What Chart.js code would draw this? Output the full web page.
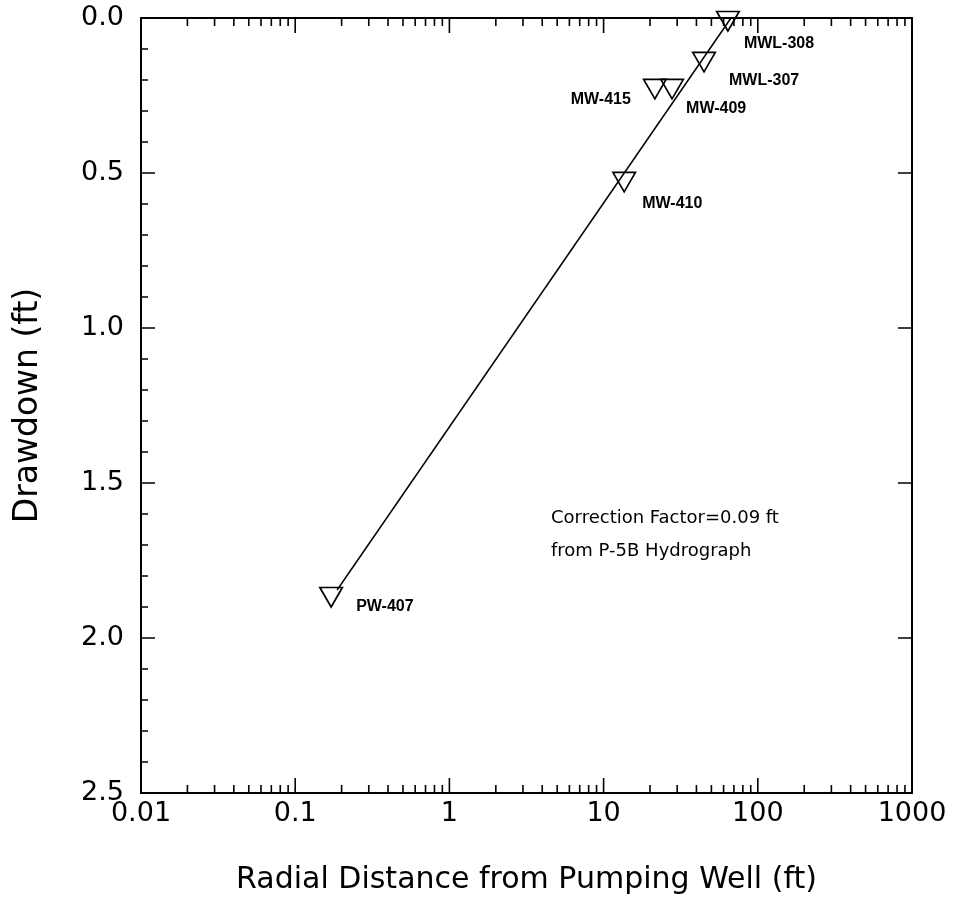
<!DOCTYPE html>
<html><head><meta charset="utf-8">
<script src="https://cdn.jsdelivr.net/npm/chart.js@4.4.0/dist/chart.umd.min.js"></script>
<style>html,body{margin:0;padding:0;background:#fff}#wrap{width:956px;height:908px}</style>
</head><body><div id="wrap"><canvas id="c" width="956" height="908"></canvas></div>
<script>
// ---- data ----
const wellNames = ['MWL-308', 'MWL-307', 'MW-415', 'MW-409', 'MW-410', 'PW-407'];
const wellDistance = [64, 44.8, 21.5, 27.8, 13.6, 0.171];
const wellDrawdown = [0.0, 0.132, 0.219, 0.219, 0.519, 1.858];
const fitDistance = [0.187, 67];
const fitDrawdown = [1.845, 0.0];
const xTickValues = [0.01, 0.1, 1, 10, 100, 1000];
const xTickLabels = ['0.01', '0.1', '1', '10', '100', '1000'];
const yTickValues = [0, 0.5, 1.0, 1.5, 2.0, 2.5];
const yTickLabels = ['0.0', '0.5', '1.0', '1.5', '2.0', '2.5'];
const noteLines = ['Correction Factor=0.09 ft', 'from P-5B Hydrograph'];
const noteDistance = 4.56;
const noteDrawdown = [1.615, 1.722];

// ---- label placement (pixel offsets from each point) ----
const labelOffsets = {
  'MWL-308': [16, 26, 'left'],
  'MWL-307': [25, 22, 'left'],
  'MW-415': [-24, 14, 'right'],
  'MW-409': [14, 23, 'left'],
  'MW-410': [18, 25, 'left'],
  'PW-407': [25, 13, 'left']
};

const TICK_FONT = {family: 'DejaVu Sans', size: 27, weight: 'normal'};
const XTITLE_FONT = {family: 'DejaVu Sans', size: 30, weight: 'normal'};
const YTITLE_FONT = {family: 'DejaVu Sans', size: 33, weight: 'normal'};
const LABEL_FONT = 'bold 16px "Liberation Sans"';
const NOTE_FONT = '18px "DejaVu Sans"';

const decorPlugin = {
  id: 'decor',
  afterDatasetsDraw(chart) {
    const {ctx, chartArea: a, scales: {x, y}} = chart;
    ctx.save();
    ctx.strokeStyle = '#000';
    ctx.lineWidth = 2;
    ctx.strokeRect(a.left, a.top, a.right - a.left, a.bottom - a.top);
    ctx.lineWidth = 1.6;
    ctx.beginPath();
    for (let d = -2; d <= 3; d++) {
      for (let m = 1; m <= 9; m++) {
        const v = m * Math.pow(10, d);
        if (v > 1000 + 1e-9) continue;
        const px = x.getPixelForValue(v);
        const len = m === 1 ? 15 : 8;
        ctx.moveTo(px, a.bottom); ctx.lineTo(px, a.bottom - len);
        ctx.moveTo(px, a.top); ctx.lineTo(px, a.top + len);
      }
    }
    for (let i = 0; i <= 25; i++) {
      const v = i / 10;
      const py = y.getPixelForValue(v);
      const major = i % 5 === 0;
      const len = major ? 14 : 7;
      ctx.moveTo(a.left, py); ctx.lineTo(a.left + len, py);
      if (major) { ctx.moveTo(a.right, py); ctx.lineTo(a.right - len, py); }
    }
    ctx.stroke();
    ctx.fillStyle = '#000';
    ctx.font = LABEL_FONT;
    ctx.textBaseline = 'middle';
    wellNames.forEach((n, i) => {
      const px = x.getPixelForValue(wellDistance[i]);
      const py = y.getPixelForValue(wellDrawdown[i]);
      const o = labelOffsets[n];
      ctx.textAlign = o[2];
      ctx.fillText(n, px + o[0], py + o[1]);
    });
    ctx.font = NOTE_FONT;
    ctx.textAlign = 'left';
    noteLines.forEach((t, i) => {
      ctx.fillText(t, x.getPixelForValue(noteDistance), y.getPixelForValue(noteDrawdown[i]));
    });
    ctx.restore();
  }
};

new Chart(document.getElementById('c'), {
  data: {
    datasets: [
      {
        type: 'line',
        data: fitDistance.map((v, i) => ({x: v, y: fitDrawdown[i]})),
        borderColor: '#000',
        borderWidth: 1.5,
        pointRadius: 0,
        fill: false,
        clip: false
      },
      {
        type: 'scatter',
        data: wellDistance.map((v, i) => ({x: v, y: wellDrawdown[i]})),
        pointStyle: 'triangle',
        rotation: 180,
        pointRadius: 13,
        borderColor: '#000',
        borderWidth: 1.7,
        backgroundColor: 'rgba(0,0,0,0)',
        clip: false
      }
    ]
  },
  options: {
    responsive: false,
    animation: false,
    devicePixelRatio: 1,
    layout: {padding: {top: 18, right: 44, left: 0, bottom: 0}},
    plugins: {legend: {display: false}, tooltip: {enabled: false}},
    scales: {
      x: {
        type: 'logarithmic',
        position: 'bottom',
        min: 0.01, max: 1000,
        afterBuildTicks: s => { s.ticks = xTickValues.map(v => ({value: v})); },
        afterFit: s => { s.height = 115; s.paddingLeft = 0; s.paddingRight = 0; },
        grid: {display: false, drawTicks: false},
        border: {display: false},
        ticks: {
          color: '#000', font: TICK_FONT, padding: 5, maxRotation: 0, autoSkip: false,
          callback: (v) => { const i = xTickValues.findIndex(t => Math.abs(t - v) / t < 1e-6); return i >= 0 ? xTickLabels[i] : ''; }
        },
        title: {display: true, text: 'Radial Distance from Pumping Well (ft)', color: '#000', font: XTITLE_FONT, padding: {top: 0, bottom: 10}}
      },
      y: {
        type: 'linear',
        reverse: true,
        min: 0, max: 2.5,
        afterBuildTicks: s => { s.ticks = yTickValues.map(v => ({value: v})); },
        afterFit: s => { s.width = 141; s.paddingTop = 0; s.paddingBottom = 0; },
        grid: {display: false, drawTicks: false},
        border: {display: false},
        ticks: {
          color: '#000', font: TICK_FONT, padding: 17, autoSkip: false,
          callback: (v) => { const i = yTickValues.findIndex(t => Math.abs(t - v) < 1e-6); return i >= 0 ? yTickLabels[i] : ''; }
        },
        title: {display: true, text: 'Drawdown (ft)', color: '#000', font: YTITLE_FONT, padding: {top: 9, bottom: 0}}
      }
    }
  },
  plugins: [decorPlugin]
});
</script>
</body></html>
